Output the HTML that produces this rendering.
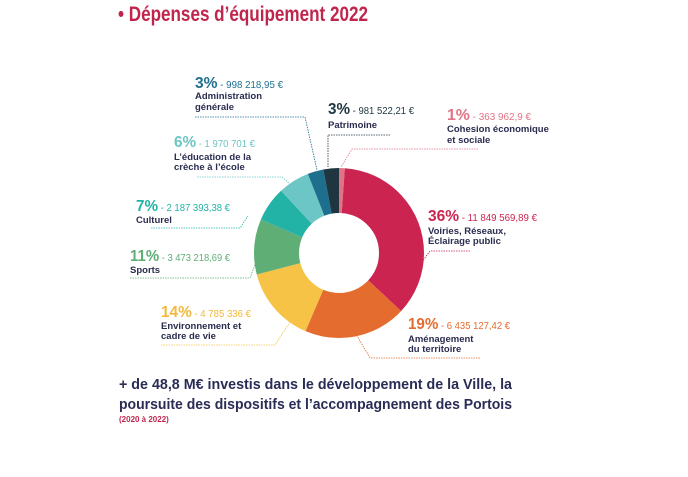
<!DOCTYPE html>
<html><head><meta charset="utf-8"><style>
html,body{margin:0;padding:0;background:#fff;}
svg{display:block;font-family:"Liberation Sans",sans-serif;}
.p{font-weight:bold;font-size:16px;}
.v{font-size:10px;}
.l{font-size:9.5px;font-weight:bold;fill:#2a2c50;}
.ln{stroke-width:0.8;fill:none;stroke-dasharray:1.5 1;}
</style></head><body>
<svg width="688" height="477" viewBox="0 0 688 477">
<text x="118" y="21" fill="#c0264d" font-weight="bold" font-size="21" textLength="250" lengthAdjust="spacingAndGlyphs">• Dépenses d’équipement 2022</text>

<g transform="rotate(-90 339 253)" fill="none" stroke-width="45">
<circle cx="339" cy="253" r="62.5" stroke="#e07385" stroke-dasharray="4.32 392.7" stroke-dashoffset="0"/>
<circle cx="339" cy="253" r="62.5" stroke="#cc2450" stroke-dasharray="140.8 392.7" stroke-dashoffset="-4.32"/>
<circle cx="339" cy="253" r="62.5" stroke="#e46c2e" stroke-dasharray="76.46 392.7" stroke-dashoffset="-145.12"/>
<circle cx="339" cy="253" r="62.5" stroke="#f6c346" stroke-dasharray="56.86 392.7" stroke-dashoffset="-221.58"/>
<circle cx="339" cy="253" r="62.5" stroke="#5fae76" stroke-dasharray="41.27 392.7" stroke-dashoffset="-278.44"/>
<circle cx="339" cy="253" r="62.5" stroke="#22b3a6" stroke-dasharray="26.0 392.7" stroke-dashoffset="-319.71"/>
<circle cx="339" cy="253" r="62.5" stroke="#6cc6c5" stroke-dasharray="23.4 392.7" stroke-dashoffset="-345.71"/>
<circle cx="339" cy="253" r="62.5" stroke="#1e6f8d" stroke-dasharray="11.86 392.7" stroke-dashoffset="-369.11"/>
<circle cx="339" cy="253" r="62.5" stroke="#1f3540" stroke-dasharray="11.76 392.7" stroke-dashoffset="-380.97"/>
</g>

<polyline class="ln" stroke="#1e6f8d" points="195,117 305,117 317,170"/>
<polyline class="ln" stroke="#1f3540" points="390,135 328,135 328,168"/>
<polyline class="ln" stroke="#e07385" points="478,149 352,149 341,167"/>
<polyline class="ln" stroke="#6cc6c5" points="197,177 282,177 290,184"/>
<polyline class="ln" stroke="#22b3a6" points="151,228 240,228 248,216"/>
<polyline class="ln" stroke="#cc2450" points="470,251 430,251 422,262"/>
<polyline class="ln" stroke="#5fae76" points="130,278 250,278 256,262"/>
<polyline class="ln" stroke="#f6c346" points="161,345 275,345 290,322"/>
<polyline class="ln" stroke="#e46c2e" points="480,358 370,358 356,334"/>

<text x="195" y="88" textLength="88" lengthAdjust="spacingAndGlyphs"><tspan class="p" fill="#1e6f8d">3%</tspan><tspan class="v" fill="#1e6f8d"> - 998 218,95 €</tspan></text>
<text class="l" x="195" y="99">Administration</text>
<text class="l" x="195" y="110">générale</text>

<text x="328" y="114" textLength="86" lengthAdjust="spacingAndGlyphs"><tspan class="p" fill="#1f3540">3%</tspan><tspan class="v" fill="#1f3540"> - 981 522,21 €</tspan></text>
<text class="l" x="328" y="128">Patrimoine</text>

<text x="447" y="120" textLength="84" lengthAdjust="spacingAndGlyphs"><tspan class="p" fill="#e07385">1%</tspan><tspan class="v" fill="#e07385"> - 363 962,9 €</tspan></text>
<text class="l" x="447" y="132">Cohesion économique</text>
<text class="l" x="447" y="143">et sociale</text>

<text x="174" y="147" textLength="81" lengthAdjust="spacingAndGlyphs"><tspan class="p" fill="#6cc6c5">6%</tspan><tspan class="v" fill="#6cc6c5"> - 1 970 701 €</tspan></text>
<text class="l" x="174" y="160">L’éducation de la</text>
<text class="l" x="174" y="170">crèche à l’école</text>

<text x="136" y="211" textLength="94" lengthAdjust="spacingAndGlyphs"><tspan class="p" fill="#22b3a6">7%</tspan><tspan class="v" fill="#22b3a6"> - 2 187 393,38 €</tspan></text>
<text class="l" x="136" y="223">Culturel</text>

<text x="428" y="221" textLength="109" lengthAdjust="spacingAndGlyphs"><tspan class="p" fill="#cc2450">36%</tspan><tspan class="v" fill="#cc2450"> - 11 849 569,89 €</tspan></text>
<text class="l" x="428" y="234">Voiries, Réseaux,</text>
<text class="l" x="428" y="244">Éclairage public</text>

<text x="130" y="261" textLength="100" lengthAdjust="spacingAndGlyphs"><tspan class="p" fill="#5fae76">11%</tspan><tspan class="v" fill="#5fae76"> - 3 473 218,69 €</tspan></text>
<text class="l" x="130" y="273">Sports</text>

<text x="161" y="317" textLength="90" lengthAdjust="spacingAndGlyphs"><tspan class="p" fill="#f2b93c">14%</tspan><tspan class="v" fill="#f2b93c"> - 4 785 336 €</tspan></text>
<text class="l" x="161" y="329">Environnement et</text>
<text class="l" x="161" y="339">cadre de vie</text>

<text x="408" y="329" textLength="102" lengthAdjust="spacingAndGlyphs"><tspan class="p" fill="#e46c2e">19%</tspan><tspan class="v" fill="#e46c2e"> - 6 435 127,42 €</tspan></text>
<text class="l" x="408" y="342">Aménagement</text>
<text class="l" x="408" y="352">du territoire</text>

<text x="119" y="389" fill="#2a2c55" font-weight="bold" font-size="14.5" textLength="393" lengthAdjust="spacingAndGlyphs">+ de 48,8 M€ investis dans le développement de la Ville, la</text>
<text x="119" y="409" fill="#2a2c55" font-weight="bold" font-size="14.5" textLength="393" lengthAdjust="spacingAndGlyphs">poursuite des dispositifs et l’accompagnement des Portois</text>
<text x="119" y="422" fill="#c0264d" font-weight="bold" font-size="8">(2020 à 2022)</text>
</svg>
</body></html>
